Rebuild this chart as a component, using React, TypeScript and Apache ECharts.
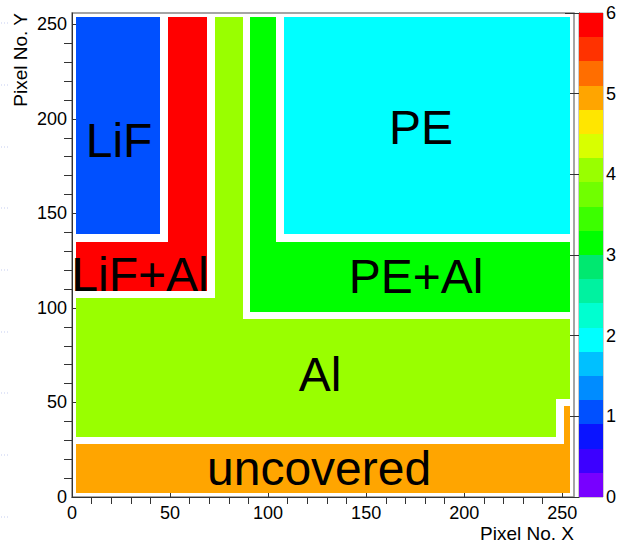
import React, { useEffect, useRef } from "react";
import * as echarts from "echarts";

// Material names and the value (colour index) of each region
const materials = ["LiF", "PE", "PE+Al", "LiF+Al", "Al", "uncovered"];
const materialValues = [1, 2, 3, 6, 4, 5];
// Bin ranges [x0, y0, x1, y1] covered by each material (pixel numbers)
const materialBins: number[][][] = [
  [[2, 139, 45, 254]],
  [[108, 139, 254, 254]],
  [[91, 98, 254, 135], [91, 135, 104, 254]],
  [[2, 109, 69, 135], [49, 135, 69, 254]],
  [[2, 32, 247, 52], [2, 52, 254, 94], [2, 94, 87, 105], [73, 105, 87, 254]],
  [[2, 2, 254, 28], [251, 28, 254, 48]],
];
// Label anchors (pixel coordinates of the histogram)
const labelX = [24, 178, 175.5, 34.7, 126.5, 126];
const labelY = [188.6, 195.7, 116.5, 117.5, 64.7, 15];

// Axis ticks
const majorTicks = [0, 50, 100, 150, 200, 250];
const minorTicks = [10, 20, 30, 40, 60, 70, 80, 90, 110, 120, 130, 140, 160, 170, 180, 190, 210, 220, 230, 240];
// Palette contour levels and colours
const contourLevels = [0, 0.3, 0.6, 0.9, 1.2, 1.5, 1.8, 2.1, 2.4, 2.7, 3.0, 3.3, 3.6, 3.9, 4.2, 4.5, 4.8, 5.1, 5.4, 5.7, 6.0];
const paletteColors = [
  "#7800ff", "#3c00ff", "#0a14ff", "#0050ff", "#008cff", "#00c0ff", "#00ffff",
  "#00ffd0", "#00f2a0", "#00e870", "#00ff00", "#3cff00", "#70ff00", "#99ff00",
  "#d8ff00", "#ffe600", "#ffa500", "#ff6e00", "#ff3200", "#ff0000",
];
// Faint dotted marks at the left page edge (screen rows)
const edgeMarkRows = [23, 85, 147, 208, 270, 332, 393, 455, 517];

const FONT = "'Liberation Sans', Arial, Helvetica, sans-serif";

export default function App() {
  const ref = useRef<HTMLDivElement>(null);
  useEffect(() => {
    if (!ref.current) return;
    const chart = echarts.init(ref.current, undefined, { renderer: "svg" });

    const regionData: number[][] = [];
    materialBins.forEach((rects, i) => {
      rects.forEach((r) => regionData.push([r[0], r[1], r[2], r[3], materialValues[i]]));
    });
    const bandData: number[][] = [];
    for (let i = 0; i < paletteColors.length; i++) {
      const lo = contourLevels[i];
      const hi = contourLevels[i + 1];
      bandData.push([0, lo, 1, hi, (lo + hi) / 2]);
    }
    const pieces = paletteColors.map((c, i) =>
      i === paletteColors.length - 1
        ? { gte: contourLevels[i], lte: contourLevels[i + 1], color: c }
        : { gte: contourLevels[i], lt: contourLevels[i + 1], color: c }
    );
    const labelData = materials.map((m, i) => ({ name: m, value: [labelX[i], labelY[i]] }));

    const rectRender = (params: any, api: any) => {
      const p0 = api.coord([api.value(0), api.value(3)]);
      const p1 = api.coord([api.value(2), api.value(1)]);
      const x0 = Math.round(p0[0]);
      const y0 = Math.round(p0[1]);
      const x1 = Math.round(p1[0]);
      const y1 = Math.round(p1[1]);
      return {
        type: "rect",
        shape: { x: x0, y: y0, width: x1 - x0, height: y1 - y0 },
        style: { fill: api.visual("color") },
      };
    };

    const axisLineStyle = { color: "#333", width: 1 };
    const labelStyle = { fontFamily: FONT, fontSize: 18, color: "#000" };

    chart.setOption({
      animation: false,
      backgroundColor: "#fff",
      grid: [
        { left: 72, right: 45, top: 13, bottom: 46, show: true, borderColor: "#888", borderWidth: 1.5, backgroundColor: "#fff" },
        { left: 579, right: 12, top: 13, bottom: 46, show: true, borderColor: "#999", borderWidth: 1 },
      ],
      xAxis: [
        {
          gridIndex: 0, type: "value", min: 0, max: 256,
          name: "Pixel No. X", nameLocation: "end", nameGap: 0,
          nameTextStyle: { fontFamily: FONT, fontSize: 19, color: "#000", align: "right", verticalAlign: "top", padding: [27, 0, 0, 0] },
          axisLine: { show: true, lineStyle: axisLineStyle },
          axisTick: { show: true, inside: true, length: 13, customValues: majorTicks, lineStyle: axisLineStyle },
          axisLabel: { ...labelStyle, margin: 7, customValues: majorTicks },
          splitLine: { show: false },
        },
        {
          gridIndex: 0, type: "value", min: 0, max: 256,
          axisLine: { show: false },
          axisTick: { show: true, inside: true, length: 7, customValues: minorTicks, lineStyle: axisLineStyle },
          axisLabel: { show: false },
          splitLine: { show: false },
        },
        { gridIndex: 1, type: "value", min: 0, max: 1, show: false },
      ],
      yAxis: [
        {
          gridIndex: 0, type: "value", min: 0, max: 256,
          axisLine: { show: true, lineStyle: axisLineStyle },
          axisTick: { show: true, inside: true, length: 15, customValues: majorTicks, lineStyle: axisLineStyle },
          axisLabel: { ...labelStyle, margin: 5, customValues: majorTicks },
          splitLine: { show: false },
        },
        {
          gridIndex: 0, type: "value", min: 0, max: 256,
          axisLine: { show: false },
          axisTick: { show: true, inside: true, length: 8, customValues: minorTicks, lineStyle: axisLineStyle },
          axisLabel: { show: false },
          splitLine: { show: false },
        },
        {
          gridIndex: 1, type: "value", min: 0, max: 6, interval: 1, position: "right",
          axisLine: { show: true, lineStyle: axisLineStyle },
          axisTick: { show: true, inside: true, length: 14, lineStyle: axisLineStyle },
          axisLabel: { ...labelStyle, margin: 3 },
          splitLine: { show: false },
        },
      ],
      visualMap: {
        type: "piecewise", show: false, dimension: 4, seriesIndex: [0, 1], pieces,
      },
      graphic: [
        {
          type: "text", x: 20, y: 13, rotation: Math.PI / 2,
          style: { text: "Pixel No. Y", fontFamily: FONT, fontSize: 19, fill: "#000", align: "right", verticalAlign: "middle" },
        },
        ...edgeMarkRows.map((r) => ({
          type: "line", silent: true,
          shape: { x1: 1, y1: r, x2: 9, y2: r },
          style: { stroke: "#c5cdf0", lineWidth: 1, lineDash: [1, 2] },
        })),
      ],
      series: [
        {
          type: "custom", name: "regions", xAxisIndex: 0, yAxisIndex: 0,
          data: regionData, renderItem: rectRender, encode: { x: [0, 2], y: [1, 3] }, z: 1,
        },
        {
          type: "custom", name: "palette", xAxisIndex: 2, yAxisIndex: 2,
          data: bandData, renderItem: rectRender, encode: { x: [0, 2], y: [1, 3] }, z: 1,
        },
        {
          type: "custom", name: "labels", xAxisIndex: 0, yAxisIndex: 0, z: 5,
          data: labelData,
          renderItem: (params: any, api: any) => {
            const p = api.coord([api.value(0), api.value(1)]);
            return {
              type: "text", x: p[0], y: p[1],
              style: { text: materials[params.dataIndex], fontFamily: FONT, fontSize: 48, fill: "#000", align: "center", verticalAlign: "middle" },
            };
          },
        },
      ],
    });
    return () => chart.dispose();
  }, []);
  return <div ref={ref} style={{ position: "fixed", left: 0, top: 0, width: 619, height: 543 }} />;
}
